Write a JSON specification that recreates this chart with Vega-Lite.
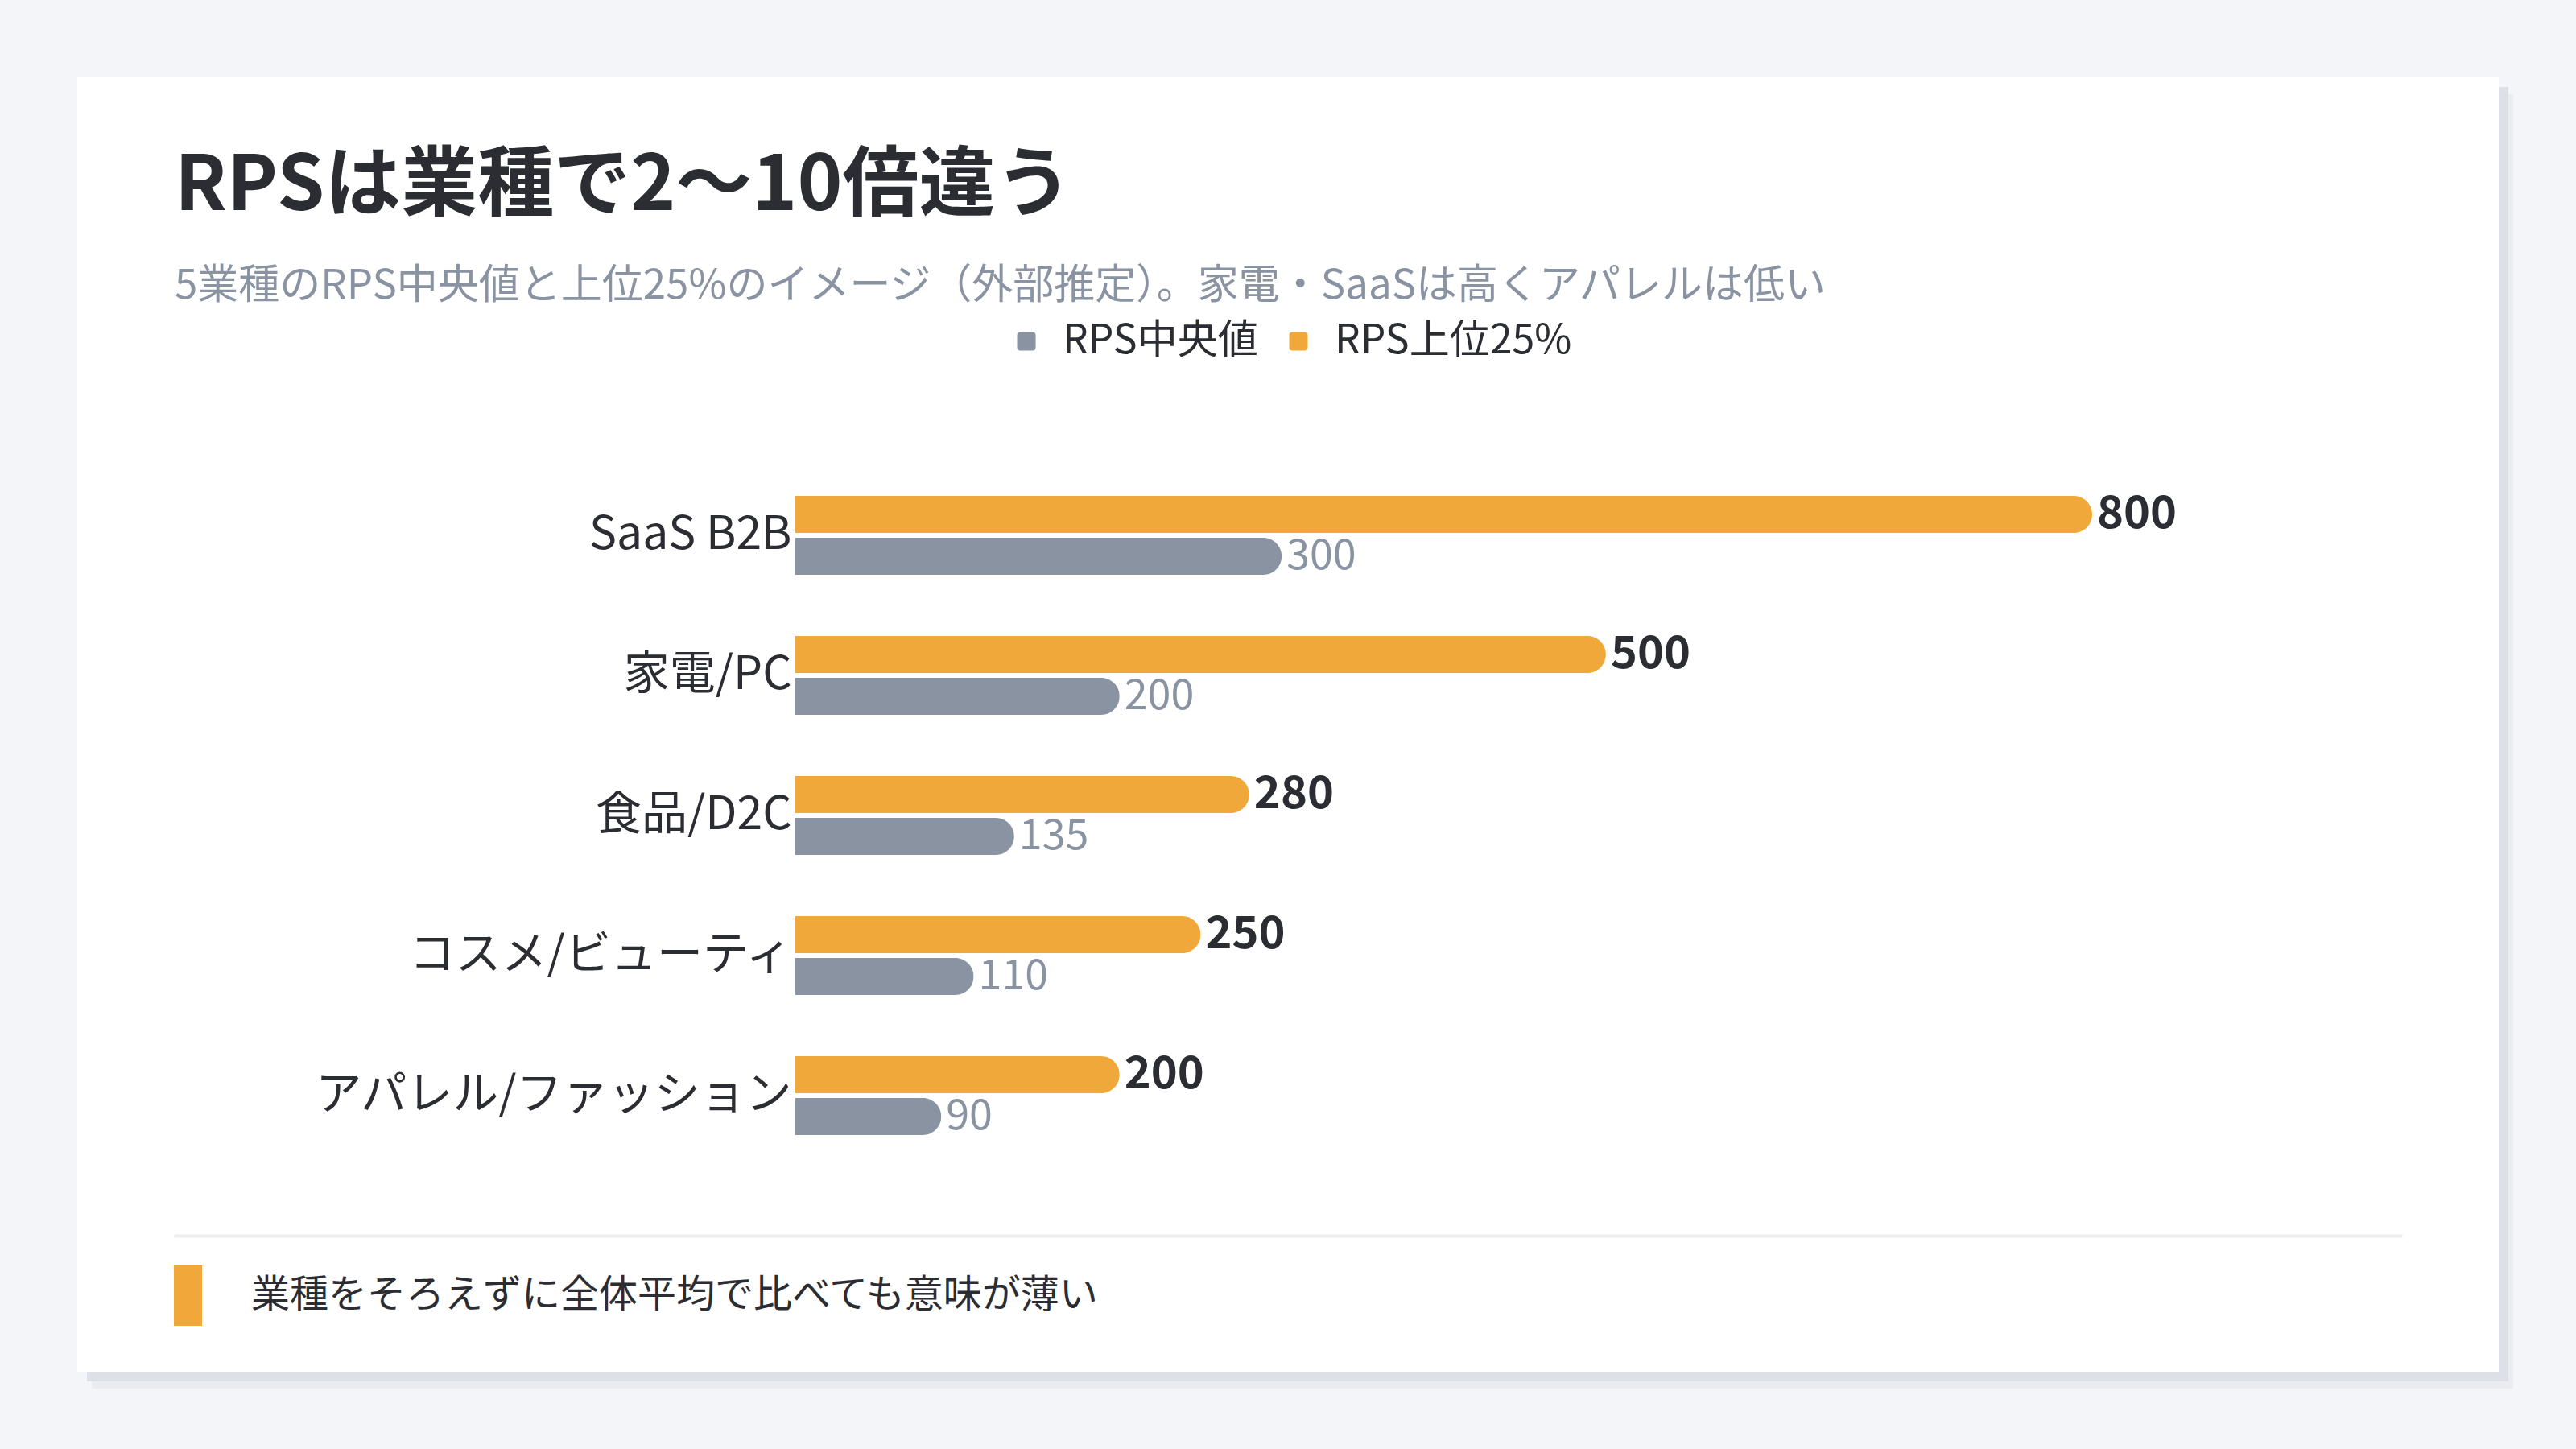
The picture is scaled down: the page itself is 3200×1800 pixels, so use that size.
{
  "$schema": "https://vega.github.io/schema/vega-lite/v6.json",
  "width": 3008,
  "height": 1608,
  "autosize": {"type": "none"},
  "padding": {"left": 96, "top": 96, "right": 96, "bottom": 96},
  "background": "#f4f5f9",
  "config": {"font": "Noto Sans CJK JP", "view": {"stroke": null}},
  "title": {
    "text": "RPSは業種で2〜10倍違う",
    "subtitle": "5業種のRPS中央値と上位25%のイメージ（外部推定）。家電・SaaSは高くアパレルは低い",
    "anchor": "start",
    "frame": "group",
    "offset": -286,
    "dx": 121,
    "fontSize": 95,
    "fontWeight": "bold",
    "color": "#2b2d33",
    "subtitleFontSize": 51,
    "subtitleColor": "#8a93a2",
    "subtitlePadding": 50
  },
  "datasets": {
    "bars": [
      {"industry": "SaaS B2B", "series": "RPS上位25%", "value": 800},
      {"industry": "SaaS B2B", "series": "RPS中央値", "value": 300},
      {"industry": "家電/PC", "series": "RPS上位25%", "value": 500},
      {"industry": "家電/PC", "series": "RPS中央値", "value": 200},
      {"industry": "食品/D2C", "series": "RPS上位25%", "value": 280},
      {"industry": "食品/D2C", "series": "RPS中央値", "value": 135},
      {"industry": "コスメ/ビューティ", "series": "RPS上位25%", "value": 250},
      {"industry": "コスメ/ビューティ", "series": "RPS中央値", "value": 110},
      {"industry": "アパレル/ファッション", "series": "RPS上位25%", "value": 200},
      {"industry": "アパレル/ファッション", "series": "RPS中央値", "value": 90}
    ]
  },
  "layer": [
    {
      "data": {"values": [{"card": "shadow-outer"}]},
      "mark": {"type": "rect", "color": "#eaecf0", "xOffset": 18, "x2Offset": 18, "yOffset": 21, "y2Offset": 21},
      "encoding": {"x": {"value": 0}, "x2": {"value": "width"}, "y": {"value": 0}, "y2": {"value": "height"}}
    },
    {
      "data": {"values": [{"card": "shadow-inner"}]},
      "mark": {"type": "rect", "color": "#dde0e6", "xOffset": 12, "x2Offset": 12, "yOffset": 12, "y2Offset": 12},
      "encoding": {"x": {"value": 0}, "x2": {"value": "width"}, "y": {"value": 0}, "y2": {"value": "height"}}
    },
    {
      "data": {"values": [{"card": "card"}]},
      "mark": {"type": "rect", "color": "#ffffff"},
      "encoding": {"x": {"value": 0}, "x2": {"value": "width"}, "y": {"value": 0}, "y2": {"value": "height"}}
    },
    {
      "data": {"name": "bars"},
      "mark": {"type": "bar", "cornerRadiusEnd": 23},
      "encoding": {
        "y": {
          "field": "industry", "type": "nominal",
          "sort": ["SaaS B2B", "家電/PC", "食品/D2C", "コスメ/ビューティ", "アパレル/ファッション"],
          "scale": {"domain": ["SaaS B2B", "家電/PC", "食品/D2C", "コスメ/ビューティ", "アパレル/ファッション"], "range": [520, 1314], "paddingInner": 0.43678, "paddingOuter": 0},
          "axis": {"orient": "left", "offset": -892, "zindex": 2, "title": null, "domain": false, "ticks": false, "grid": false, "labelPadding": 5, "labelFontSize": 57, "labelColor": "#2b2d33", "labelLimit": 1000}
        },
        "yOffset": {
          "field": "series", "type": "nominal",
          "sort": ["RPS上位25%", "RPS中央値"],
          "scale": {"domain": ["RPS上位25%", "RPS中央値"], "paddingInner": 0.1154, "paddingOuter": 0}
        },
        "x": {
          "field": "value", "type": "quantitative",
          "scale": {"domain": [-383.37, 991.18], "range": [120, 2888], "nice": false},
          "axis": {"orient": "bottom", "offset": -169, "zindex": 2, "title": null, "labels": false, "ticks": false, "grid": false, "domainColor": "#eceef2", "domainWidth": 4}
        },
        "color": {
          "field": "series", "type": "nominal",
          "scale": {"domain": ["RPS中央値", "RPS上位25%"], "range": ["#8a93a2", "#f0a83b"]},
          "legend": {
            "title": null, "orient": "none", "legendX": 1154, "legendY": 303, "direction": "horizontal",
            "symbolType": "M-0.65,-1H0.65Q1,-1 1,-0.65V0.65Q1,1 0.65,1H-0.65Q-1,1 -1,0.65V-0.65Q-1,-1 -0.65,-1Z",
            "symbolSize": 529, "symbolStrokeWidth": 0, "labelFontSize": 50, "labelColor": "#2b2d33",
            "labelOffset": 20, "columnPadding": 25, "padding": 0, "labelLimit": 1000
          }
        }
      }
    },
    {
      "data": {"name": "bars"},
      "transform": [{"filter": "datum.series === 'RPS上位25%'"}],
      "mark": {"type": "text", "align": "left", "baseline": "middle", "dx": 6, "fontSize": 56, "fontWeight": "bold", "color": "#2b2d33"},
      "encoding": {
        "y": {"field": "industry", "type": "nominal", "sort": ["SaaS B2B", "家電/PC", "食品/D2C", "コスメ/ビューティ", "アパレル/ファッション"]},
        "yOffset": {"field": "series", "type": "nominal", "sort": ["RPS上位25%", "RPS中央値"]},
        "x": {"field": "value", "type": "quantitative"},
        "text": {"field": "value", "type": "quantitative"}
      }
    },
    {
      "data": {"name": "bars"},
      "transform": [{"filter": "datum.series === 'RPS中央値'"}],
      "mark": {"type": "text", "align": "left", "baseline": "middle", "dx": 6, "fontSize": 52, "color": "#8a93a2"},
      "encoding": {
        "y": {"field": "industry", "type": "nominal", "sort": ["SaaS B2B", "家電/PC", "食品/D2C", "コスメ/ビューティ", "アパレル/ファッション"]},
        "yOffset": {"field": "series", "type": "nominal", "sort": ["RPS上位25%", "RPS中央値"]},
        "x": {"field": "value", "type": "quantitative"},
        "text": {"field": "value", "type": "quantitative"}
      }
    },
    {
      "data": {"values": [{"note": "業種をそろえずに全体平均で比べても意味が薄い"}]},
      "mark": {"type": "point", "filled": true, "opacity": 0, "color": "#f0a83b"},
      "encoding": {
        "shape": {
          "field": "note", "type": "nominal",
          "scale": {"range": ["M-0.467,-1H0.467V1H-0.467Z"]},
          "legend": {
            "title": null, "orient": "none", "legendX": 100, "legendY": 1476,
            "symbolSize": 5625, "symbolFillColor": "#f0a83b", "symbolOpacity": 1, "symbolStrokeWidth": 0,
            "labelFontSize": 48, "labelColor": "#2b2d33", "labelOffset": 41, "labelLimit": 3000, "padding": 0
          }
        }
      }
    }
  ]
}
